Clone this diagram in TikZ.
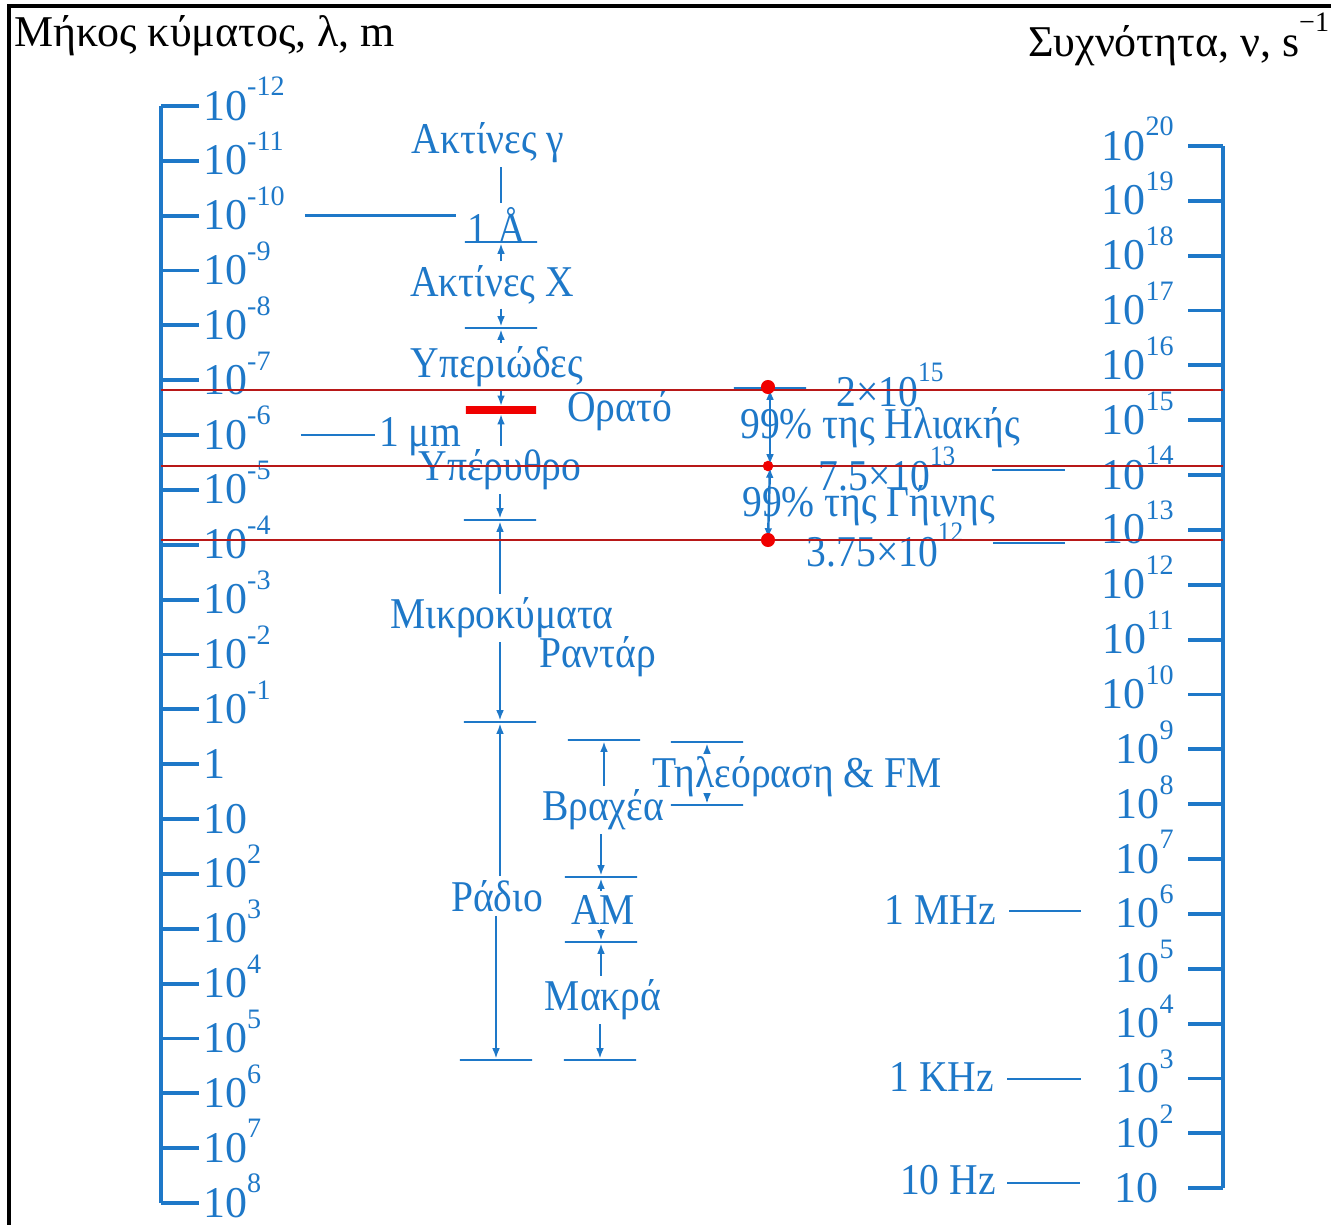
\documentclass[tikz,border=0pt]{standalone}
\usepackage{fontspec}
\setmainfont{Liberation Serif}
\newfontfamily\condfont[FakeStretch=0.9]{Liberation Serif}
\usetikzlibrary{arrows.meta,positioning,calc}
\definecolor{specblue}{HTML}{1E78C8}
\definecolor{markred}{HTML}{F00000}
\definecolor{guidered}{HTML}{B81818}
\newcommand\tenpow[1]{10\raisebox{0.55em}{\fontsize{8}{8}\selectfont #1}}

\begin{document}
\begin{tikzpicture}[x=0.01cm, y=-0.01cm,
    every node/.style={font=\fontsize{12.5}{14}\selectfont, text=specblue, inner sep=1pt},
    band/.style={font=\condfont\fontsize{12.5}{14}\selectfont},
    axis/.style={draw=specblue, line width=1.2pt},
    tick/.style={draw=specblue, line width=1.1pt},
    lead/.style={draw=specblue, line width=0.7pt},
    arr/.style={draw=specblue, line width=0.7pt, -{Latex[length=3pt,width=2.2pt]}},
    bar/.style={rectangle, draw=specblue, line width=0.7pt, minimum width=0.72cm, minimum height=0pt, inner sep=0pt},
    redbar/.style={rectangle, draw=markred, line width=2.2pt, minimum width=0.7cm, minimum height=0pt, inner sep=0pt},
    title/.style={anchor=base west, text=black}
]
\useasboundingbox (0,0) rectangle (1331,1224);
\draw[line width=1pt] (9,1240) -- (9,6) -- (1345,6);

% titles
\node[title] (wtitle) at (10,47) {Μήκος κύματος, λ, m};
\node[title] (ftitle) at (1024,56) {Συχνότητα, ν, s\raisebox{0.55em}{\fontsize{8}{8}\selectfont −1}};

% wavelength axis
\foreach \lab [count=\i from 0] in {\tenpow{-12},\tenpow{-11},\tenpow{-10},\tenpow{-9},\tenpow{-8},\tenpow{-7},\tenpow{-6},\tenpow{-5},\tenpow{-4},\tenpow{-3},\tenpow{-2},\tenpow{-1},1,10,\tenpow{2},\tenpow{3},\tenpow{4},\tenpow{5},\tenpow{6},\tenpow{7},\tenpow{8}}{
  \pgfmathsetmacro\yy{106+54.85*\i}
  \coordinate (wt\i) at (161,\yy);
  \node[anchor=base west] (wl\i) at (199,\yy+14) {\lab};
  \draw[tick] (wt\i) -- (wl\i.west |- wt\i);
}
\draw[axis] (wt0) -- (wt20);

% frequency axis
\foreach \e [count=\i from 0] in {20,19,...,2}{
  \pgfmathsetmacro\yy{146+54.85*\i}
  \coordinate (ft\i) at (1223,\yy);
  \coordinate (fs\i) at (1188,\yy);
  \node[anchor=base east] (fl\i) at (1178,\yy+14) {\tenpow{\e}};
  \draw[tick] (fs\i) -- (ft\i);
}
\coordinate (ft19) at (1223,1188);
\coordinate (fs19) at (1188,1188);
\node[anchor=base west] (fl19) at (1110,1202) {10};
\draw[tick] (fs19) -- (ft19);
\draw[axis] (ft0) -- (ft19);

% main bands
\node[band] (gam) at (488,143) {Ακτίνες γ};
\node[band] (ang) at (497,225) {1 Å};
\node[bar] (bxr) at (501,242) {};
\node[band] (xr) at (492,285) {Ακτίνες X};
\node[bar] (bxu) at (501,328) {};
\node[band] (uv) at (497,367) {Υπεριώδες};
\node[redbar] (bvis) at (501,410) {};
\node[band, anchor=west] (vis) at (563,411) {Ορατό};
\node[band, anchor=west] (um) at (375,437) {1 μm};
\node[band] (ir) at (500,470) {Υπέρυθρο};
\node[bar] (bim) at (500,520) {};
\node[band] (mw) at (502,618) {Μικροκύματα};
\node[band, anchor=west] (rad) at (535,657) {Ραντάρ};
\node[bar] (bmr) at (500,722) {};
\node[band] (radio) at (497,896) {Ράδιο};
\node[bar] (bend) at (496,1060) {};

\draw[lead] (gam.south -| bxr) -- (ang.north -| bxr);
\draw[lead] ($(wl2.east |- wt2)+(16,0)$) -- ($(ang.west |- wt2)+(-8,0)$);
\draw[lead] ($(wl6.east |- wt6)+(26,0)$) -- (um.west |- wt6);
\draw[arr] (xr.north -| bxr) -- (bxr);
\draw[arr] (xr.south -| bxu) -- (bxu);
\draw[arr] (uv.north -| bxu) -- (bxu);
\draw[arr] (uv.south -| bvis) -- (bvis);
\draw[arr] (ir.north -| bvis) -- (bvis);
\draw[arr] (ir.south -| bim) -- (bim);
\draw[arr] (mw.north -| bim) -- (bim);
\draw[arr] (mw.south -| bmr) -- (bmr);
\draw[arr] (radio.north -| bmr) -- (bmr);
\draw[arr] (radio.south -| bend) -- (bend);

% radio sub-bands
\node[bar] (bsw) at (604,740) {};
\node[band] (sw) at (603,810) {Βραχέα};
\node[bar] (bam) at (601,877) {};
\node[band] (am) at (603,910) {AM};
\node[bar] (blw) at (601,942) {};
\node[band] (lw) at (603,1000) {Μακρά};
\node[bar] (blwe) at (600,1060) {};
\draw[arr] (sw.north -| bsw) -- (bsw);
\draw[arr] (sw.south -| bam) -- (bam);
\draw[arr] (am.north -| bam) -- (bam);
\draw[arr] (am.south -| blw) -- (blw);
\draw[arr] (lw.north -| blw) -- (blw);
\draw[arr] (lw.south -| blwe) -- (blwe);

\node[bar] (btv1) at (707,742) {};
\node[bar] (btv2) at (707,805) {};
\node[band, anchor=west] (tv) at (648,777) {Τηλεόραση \& FM};
\draw[arr] (tv.north -| btv1) -- (btv1);
\draw[arr] (tv.south -| btv2) -- (btv2);

% sun and earth
\node[bar] (f1) at (770,388) {};
\node[bar] (f2) at (770,466) {};
\node[bar, minimum width=0.75cm] (f3) at (768,540) {};
\node[band] (f1l) at (890,385) {2×\tenpow{15}};
\node[band] (f2l) at (887,469) {7.5×\tenpow{13}};
\node[band] (f3l) at (885,545) {3.75×\tenpow{12}};
\node[band, anchor=west] (sun) at (736,428) {99\% της Ηλιακής};
\node[band, anchor=west] (earth) at (738,506) {99\% της Γήινης};
\coordinate (s1) at ($(f1)!0.5!(f2)$);
\coordinate (s2) at ($(f2)!0.5!(f3)$);
\draw[arr] (s1) -- (f1);
\draw[arr] (s1) -- (f2);
\draw[arr] (s2) -- (f2);
\draw[arr] (s2) -- (f3);
\coordinate (h1a) at (1020,390); \coordinate (h1b) at (1065,390);
\coordinate (h2a) at (992,470);  \coordinate (h2b) at (1065,470);
\coordinate (h3a) at (993,543);  \coordinate (h3b) at (1065,543);
\draw[lead] (h1a) -- (h1b);
\draw[lead] (h2a) -- (h2b);
\draw[lead] (h3a) -- (h3b);

% hertz marks
\node[band, anchor=east] (mhz) at (1000,910) {1 MHz};
\node[band, anchor=east] (khz) at (998,1077) {1 KHz};
\node[band, anchor=east] (thz) at (1000,1180) {10 Hz};
\draw[lead] (mhz.east) ++(9,1) -- ++(72,0);
\draw[lead] (khz.east) ++(9,2) -- ++(74,0);
\draw[lead] (thz.east) ++(7,3) -- ++(73,0);

% red marks
\draw[guidered, line width=0.5pt] (161,390) -- (1223,390);
\draw[guidered, line width=0.5pt] (161,466) -- (1223,466);
\draw[guidered, line width=0.5pt] (161,540) -- (1223,540);
\fill[markred] (768,387) circle (2pt);
\fill[markred] (768,466) circle (1.5pt);
\fill[markred] (768,540) circle (2pt);
\end{tikzpicture}
\end{document}
